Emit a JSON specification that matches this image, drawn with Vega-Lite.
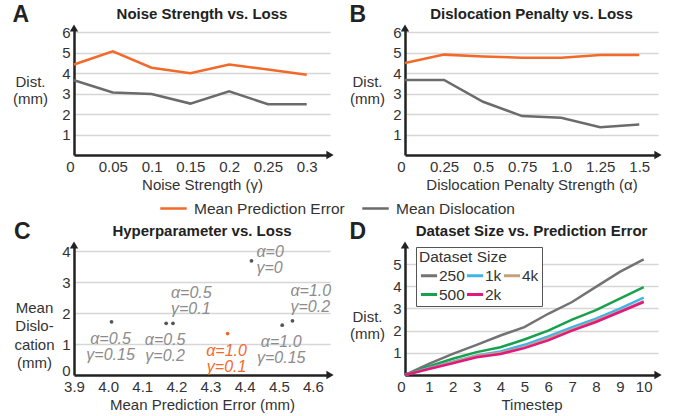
{
  "$schema": "https://vega.github.io/schema/vega-lite/v6.json",
  "padding": {"left": 12, "top": 4, "right": 5, "bottom": 2},
  "spacing": 4,
  "datasets": {
    "noise": [
      {"gamma": 0, "metric": "Mean Prediction Error", "dist": 4.42},
      {"gamma": 0.05, "metric": "Mean Prediction Error", "dist": 5.06},
      {"gamma": 0.1, "metric": "Mean Prediction Error", "dist": 4.26},
      {"gamma": 0.15, "metric": "Mean Prediction Error", "dist": 3.99},
      {"gamma": 0.2, "metric": "Mean Prediction Error", "dist": 4.42},
      {"gamma": 0.25, "metric": "Mean Prediction Error", "dist": 4.17},
      {"gamma": 0.3, "metric": "Mean Prediction Error", "dist": 3.92},
      {"gamma": 0, "metric": "Mean Dislocation", "dist": 3.65},
      {"gamma": 0.05, "metric": "Mean Dislocation", "dist": 3.05},
      {"gamma": 0.1, "metric": "Mean Dislocation", "dist": 2.98},
      {"gamma": 0.15, "metric": "Mean Dislocation", "dist": 2.51},
      {"gamma": 0.2, "metric": "Mean Dislocation", "dist": 3.11},
      {"gamma": 0.25, "metric": "Mean Dislocation", "dist": 2.48},
      {"gamma": 0.3, "metric": "Mean Dislocation", "dist": 2.48}
    ],
    "penalty": [
      {"alpha": 0, "metric": "Mean Prediction Error", "dist": 4.49},
      {"alpha": 0.25, "metric": "Mean Prediction Error", "dist": 4.9},
      {"alpha": 0.5, "metric": "Mean Prediction Error", "dist": 4.81},
      {"alpha": 0.75, "metric": "Mean Prediction Error", "dist": 4.75},
      {"alpha": 1.0, "metric": "Mean Prediction Error", "dist": 4.75},
      {"alpha": 1.25, "metric": "Mean Prediction Error", "dist": 4.88},
      {"alpha": 1.5, "metric": "Mean Prediction Error", "dist": 4.88},
      {"alpha": 0, "metric": "Mean Dislocation", "dist": 3.66},
      {"alpha": 0.25, "metric": "Mean Dislocation", "dist": 3.66},
      {"alpha": 0.5, "metric": "Mean Dislocation", "dist": 2.6},
      {"alpha": 0.75, "metric": "Mean Dislocation", "dist": 1.9},
      {"alpha": 1.0, "metric": "Mean Dislocation", "dist": 1.82},
      {"alpha": 1.25, "metric": "Mean Dislocation", "dist": 1.36},
      {"alpha": 1.5, "metric": "Mean Dislocation", "dist": 1.49}
    ],
    "hyper": [
      {"alpha": 0, "gamma": 0, "mpe": 4.42, "md": 3.69, "label": "α=0\nγ=0"},
      {"alpha": 0.5, "gamma": 0.15, "mpe": 4.01, "md": 1.72, "label": "α=0.5\nγ=0.15"},
      {"alpha": 0.5, "gamma": 0.2, "mpe": 4.17, "md": 1.67, "label": "α=0.5\nγ=0.2"},
      {"alpha": 0.5, "gamma": 0.1, "mpe": 4.19, "md": 1.67, "label": "α=0.5\nγ=0.1"},
      {"alpha": 1.0, "gamma": 0.1, "mpe": 4.35, "md": 1.34, "label": "α=1.0\nγ=0.1"},
      {"alpha": 1.0, "gamma": 0.15, "mpe": 4.51, "md": 1.61, "label": "α=1.0\nγ=0.15"},
      {"alpha": 1.0, "gamma": 0.2, "mpe": 4.54, "md": 1.75, "label": "α=1.0\nγ=0.2"}
    ],
    "dataset": [
      {"t": 0, "size": "250", "dist": 0}, {"t": 1, "size": "250", "dist": 0.5}, {"t": 2, "size": "250", "dist": 0.95}, {"t": 3, "size": "250", "dist": 1.36}, {"t": 4, "size": "250", "dist": 1.78}, {"t": 5, "size": "250", "dist": 2.16}, {"t": 6, "size": "250", "dist": 2.76}, {"t": 7, "size": "250", "dist": 3.29}, {"t": 8, "size": "250", "dist": 3.97}, {"t": 9, "size": "250", "dist": 4.65}, {"t": 10, "size": "250", "dist": 5.21},
      {"t": 0, "size": "500", "dist": 0}, {"t": 1, "size": "500", "dist": 0.39}, {"t": 2, "size": "500", "dist": 0.73}, {"t": 3, "size": "500", "dist": 1.03}, {"t": 4, "size": "500", "dist": 1.25}, {"t": 5, "size": "500", "dist": 1.6}, {"t": 6, "size": "500", "dist": 2.0}, {"t": 7, "size": "500", "dist": 2.5}, {"t": 8, "size": "500", "dist": 2.92}, {"t": 9, "size": "500", "dist": 3.44}, {"t": 10, "size": "500", "dist": 3.96},
      {"t": 0, "size": "1k", "dist": 0}, {"t": 1, "size": "1k", "dist": 0.32}, {"t": 2, "size": "1k", "dist": 0.6}, {"t": 3, "size": "1k", "dist": 0.88}, {"t": 4, "size": "1k", "dist": 1.06}, {"t": 5, "size": "1k", "dist": 1.36}, {"t": 6, "size": "1k", "dist": 1.74}, {"t": 7, "size": "1k", "dist": 2.16}, {"t": 8, "size": "1k", "dist": 2.54}, {"t": 9, "size": "1k", "dist": 2.99}, {"t": 10, "size": "1k", "dist": 3.49},
      {"t": 0, "size": "4k", "dist": 0}, {"t": 1, "size": "4k", "dist": 0.3}, {"t": 2, "size": "4k", "dist": 0.58}, {"t": 3, "size": "4k", "dist": 0.86}, {"t": 4, "size": "4k", "dist": 1.0}, {"t": 5, "size": "4k", "dist": 1.25}, {"t": 6, "size": "4k", "dist": 1.65}, {"t": 7, "size": "4k", "dist": 2.05}, {"t": 8, "size": "4k", "dist": 2.45}, {"t": 9, "size": "4k", "dist": 2.88}, {"t": 10, "size": "4k", "dist": 3.33},
      {"t": 0, "size": "2k", "dist": 0}, {"t": 1, "size": "2k", "dist": 0.27}, {"t": 2, "size": "2k", "dist": 0.53}, {"t": 3, "size": "2k", "dist": 0.8}, {"t": 4, "size": "2k", "dist": 0.95}, {"t": 5, "size": "2k", "dist": 1.21}, {"t": 6, "size": "2k", "dist": 1.56}, {"t": 7, "size": "2k", "dist": 2.0}, {"t": 8, "size": "2k", "dist": 2.39}, {"t": 9, "size": "2k", "dist": 2.84}, {"t": 10, "size": "2k", "dist": 3.29}
    ]
  },
  "vconcat": [
    {
      "hconcat": [
        {
          "title": {"text": "A", "anchor": "start", "fontSize": 23, "dy": 20, "offset": 0},
          "vconcat": [
            {
              "width": 256, "height": 127,
              "title": {"text": "Noise Strength vs. Loss", "anchor": "middle", "frame": "group", "offset": 2},
              "encoding": {
                "x": {"field": "gamma", "type": "quantitative", "scale": {"domain": [0, 0.33], "nice": false},
                  "axis": {"values": [0, 0.05, 0.1, 0.15, 0.2, 0.25, 0.3], "labelOverlap": false, "labelExpr": "format(datum.value, '.2~f')", "title": "Noise Strength (γ)",
                    "labelAlign": {"condition": {"test": "datum.value == 0", "value": "right"}, "value": "center"}}},
                "y": {"field": "dist", "type": "quantitative", "scale": {"domain": [0, 6.2], "nice": false},
                  "axis": {"values": [1, 2, 3, 4, 5, 6], "labelOverlap": false, "grid": true, "title": ["Dist.", "(mm)"], "titleAngle": 0, "titleAlign": "center", "titleBaseline": "middle", "titleX": -44, "titleY": 53}}
              },
              "layer": [
                {
                  "data": {"name": "noise"},
                  "mark": {"type": "line", "strokeWidth": 2.5},
                  "encoding": {
                    "color": {"field": "metric", "type": "nominal",
                      "scale": {"domain": ["Mean Prediction Error", "Mean Dislocation"], "range": ["#f26a2a", "#6b6b6b"]},
                      "legend": {"orient": "bottom", "direction": "horizontal", "title": null, "symbolType": "stroke", "symbolStrokeWidth": 2.5, "symbolSize": 700, "labelFontSize": 15.5, "labelColor": "#333", "columnPadding": 12, "offset": 2, "labelOffset": 6}}
                  }
                },
                {
                  "data": {"values": [{"gamma": 0, "dist": 6.2}, {"gamma": 0.33, "dist": 0}]},
                  "mark": {"type": "point", "filled": true, "size": 70, "opacity": 1, "color": "#222"},
                  "encoding": {
                    "shape": {"field": "dist", "type": "nominal", "scale": {"domain": [6.2, 0], "range": ["triangle-up", "triangle-right"]}, "legend": null}
                  }
                }
              ]
            }
          ]
        },
        {
          "title": {"text": "B", "anchor": "start", "fontSize": 23, "dy": 20, "offset": 0},
          "vconcat": [
            {
              "width": 253, "height": 127,
              "title": {"text": "Dislocation Penalty vs. Loss", "anchor": "middle", "frame": "group", "offset": 2},
              "encoding": {
                "x": {"field": "alpha", "type": "quantitative", "scale": {"domain": [0, 1.62], "nice": false},
                  "axis": {"values": [0, 0.25, 0.5, 0.75, 1, 1.25, 1.5], "labelOverlap": false, "labelExpr": "datum.value == 1 ? '1.0' : format(datum.value, '.2~f')", "title": "Dislocation Penalty Strength (α)",
                    "labelAlign": {"condition": {"test": "datum.value == 0", "value": "right"}, "value": "center"}}},
                "y": {"field": "dist", "type": "quantitative", "scale": {"domain": [0, 6.2], "nice": false},
                  "axis": {"values": [1, 2, 3, 4, 5, 6], "labelOverlap": false, "grid": true, "title": ["Dist.", "(mm)"], "titleAngle": 0, "titleAlign": "center", "titleBaseline": "middle", "titleX": -38, "titleY": 53}}
              },
              "layer": [
                {
                  "data": {"name": "penalty"},
                  "mark": {"type": "line", "strokeWidth": 2.5},
                  "encoding": {
                    "color": {"field": "metric", "type": "nominal",
                      "scale": {"domain": ["Mean Prediction Error", "Mean Dislocation"], "range": ["#f26a2a", "#6b6b6b"]},
                      "legend": {"orient": "bottom", "direction": "horizontal", "title": null, "symbolType": "stroke", "symbolStrokeWidth": 2.5, "symbolSize": 700, "labelFontSize": 15.5, "labelColor": "#333", "columnPadding": 12, "offset": 2, "labelOffset": 6}}
                  }
                },
                {
                  "data": {"values": [{"alpha": 0, "dist": 6.2}, {"alpha": 1.62, "dist": 0}]},
                  "mark": {"type": "point", "filled": true, "size": 70, "opacity": 1, "color": "#222"},
                  "encoding": {
                    "shape": {"field": "dist", "type": "nominal", "scale": {"domain": [6.2, 0], "range": ["triangle-up", "triangle-right"]}, "legend": null}
                  }
                }
              ]
            }
          ]
        }
      ],
      "resolve": {"scale": {"color": "shared"}, "legend": {"color": "shared"}}
    },
    {
      "hconcat": [
        {
          "title": {"text": "C", "anchor": "start", "fontSize": 23, "dy": 20, "offset": 0},
          "vconcat": [
            {
              "width": 256, "height": 130,
              "title": {"text": "Hyperparameter vs. Loss", "anchor": "middle", "frame": "group", "offset": 2},
              "encoding": {
                "x": {"field": "mpe", "type": "quantitative", "scale": {"domain": [3.9, 4.65], "nice": false, "zero": false},
                  "axis": {"values": [3.9, 4.0, 4.1, 4.2, 4.3, 4.4, 4.5, 4.6], "labelOverlap": false, "labelExpr": "format(datum.value, '.1f')", "title": "Mean Prediction Error (mm)"}},
                "y": {"field": "md", "type": "quantitative", "scale": {"domain": [0, 4.2], "nice": false},
                  "axis": {"values": [0, 1, 2, 3, 4], "labelOverlap": false, "grid": true, "title": ["Mean", "Dislo-", "cation", "(mm)"], "titleAngle": 0, "titleAlign": "center", "titleBaseline": "middle", "titleX": -40, "titleY": 62, "titleLineHeight": 18.5,
                    "labelBaseline": {"condition": {"test": "datum.value == 0", "value": "alphabetic"}, "value": "middle"}}}
              },
              "layer": [
                {
                  "data": {"name": "hyper"},
                  "mark": {"type": "circle", "size": 14, "opacity": 1},
                  "encoding": {
                    "color": {"condition": {"test": "datum.alpha == 1 && datum.gamma == 0.1", "value": "#f26a2a"}, "value": "#555555"}
                  }
                },
                {
                  "data": {"name": "hyper"},
                  "transform": [{"filter": "datum.alpha != 0 && !((datum.alpha == 0.5 && datum.gamma == 0.1) || (datum.alpha == 1 && datum.gamma == 0.2))"}],
                  "mark": {"type": "text", "align": "center", "baseline": "top", "dy": 9, "dx": -1, "fontSize": 16, "fontStyle": "italic", "lineBreak": "\n", "lineHeight": 16},
                  "encoding": {
                    "text": {"field": "label"},
                    "color": {"condition": {"test": "datum.alpha == 1 && datum.gamma == 0.1", "value": "#f26a2a"}, "value": "#8c8c8c"}
                  }
                },
                {
                  "data": {"name": "hyper"},
                  "transform": [{"filter": "(datum.alpha == 0.5 && datum.gamma == 0.1) || (datum.alpha == 1 && datum.gamma == 0.2)"}],
                  "mark": {"type": "text", "align": "left", "baseline": "top", "dx": -2, "dy": -38, "fontSize": 16, "fontStyle": "italic", "lineBreak": "\n", "lineHeight": 16, "color": "#8c8c8c"},
                  "encoding": {"text": {"field": "label"}}
                },
                {
                  "data": {"name": "hyper"},
                  "transform": [{"filter": "datum.alpha == 0"}],
                  "mark": {"type": "text", "align": "left", "baseline": "top", "dx": 5, "dy": -17, "fontSize": 16, "fontStyle": "italic", "lineBreak": "\n", "lineHeight": 16, "color": "#8c8c8c"},
                  "encoding": {"text": {"field": "label"}}
                },
                {
                  "data": {"values": [{"mpe": 3.9, "md": 4.2}, {"mpe": 4.65, "md": 0}]},
                  "mark": {"type": "point", "filled": true, "size": 70, "opacity": 1, "color": "#222"},
                  "encoding": {
                    "shape": {"field": "md", "type": "nominal", "scale": {"domain": [4.2, 0], "range": ["triangle-up", "triangle-right"]}, "legend": null}
                  }
                }
              ]
            }
          ]
        },
        {
          "title": {"text": "D", "anchor": "start", "fontSize": 23, "dy": 20, "offset": 0},
          "vconcat": [
            {
              "width": 253, "height": 130,
              "title": {"text": "Dataset Size vs. Prediction Error", "anchor": "middle", "frame": "group", "offset": 2},
              "encoding": {
                "x": {"field": "t", "type": "quantitative", "scale": {"domain": [0, 10.6], "nice": false},
                  "axis": {"values": [0, 1, 2, 3, 4, 5, 6, 7, 8, 9, 10], "labelOverlap": false, "title": "Timestep",
                    "labelAlign": {"condition": {"test": "datum.value == 0", "value": "right"}, "value": "center"}}},
                "y": {"field": "dist", "type": "quantitative", "scale": {"domain": [0, 5.86], "nice": false},
                  "axis": {"values": [1, 2, 3, 4, 5], "labelOverlap": false, "grid": true, "title": ["Dist.", "(mm)"], "titleAngle": 0, "titleAlign": "center", "titleBaseline": "middle", "titleX": -38, "titleY": 71}}
              },
              "layer": [
                {
                  "data": {"name": "dataset"},
                  "mark": {"type": "line", "strokeWidth": 2.5},
                  "encoding": {
                    "color": {"field": "size", "type": "nominal",
                      "scale": {"domain": ["250", "500", "1k", "2k", "4k"], "range": ["#737373", "#19a04c", "#3fb3ec", "#e3187d", "#c4a07e"]},
                      "legend": {"orient": "none", "legendX": 11, "legendY": 2, "columns": 3, "title": "Dataset Size", "titleFontSize": 15.5, "titleFontWeight": "normal", "titleColor": "#333", "titlePadding": 0,
                        "symbolType": "stroke", "symbolStrokeWidth": 3, "symbolSize": 260, "labelFontSize": 15.5, "labelColor": "#333", "labelOffset": 0, "columnPadding": -9, "rowPadding": -6,
                        "strokeColor": "#555", "fillColor": "#ffffff", "padding": 3}}
                  }
                },
                {
                  "data": {"values": [{"t": 0, "dist": 5.86}, {"t": 10.6, "dist": 0}]},
                  "mark": {"type": "point", "filled": true, "size": 70, "opacity": 1, "color": "#222"},
                  "encoding": {
                    "shape": {"field": "dist", "type": "nominal", "scale": {"domain": [5.86, 0], "range": ["triangle-up", "triangle-right"]}, "legend": null}
                  }
                }
              ]
            }
          ],
          "resolve": {"scale": {"color": "independent"}, "legend": {"color": "independent"}}
        }
      ],
      "resolve": {"scale": {"color": "independent"}, "legend": {"color": "independent"}}
    }
  ],
  "resolve": {"scale": {"color": "independent", "shape": "independent"}, "legend": {"color": "independent"}},
  "config": {
    "font": "Liberation Sans",
    "view": {"stroke": null},
    "concat": {"spacing": 15},
    "legend": {"layout": {"bottom": {"anchor": "middle"}}},
    "axis": {"domainColor": "#222", "domainWidth": 2.5, "ticks": false, "labelFlush": false, "labelFontSize": 15, "labelColor": "#333", "labelPadding": 4, "titleFontSize": 15, "titleFontWeight": "normal", "titleColor": "#333", "titlePadding": 3, "grid": true, "gridColor": "#d6d6d6", "gridWidth": 1.3},
    "axisX": {"grid": false},
    "title": {"fontSize": 15, "fontWeight": "bold", "color": "#222"}
  }
}
